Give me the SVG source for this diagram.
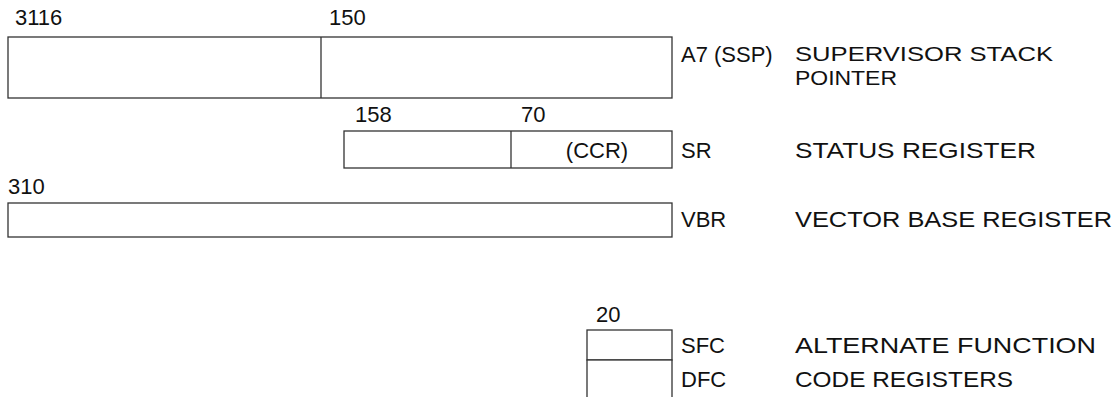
<svg xmlns="http://www.w3.org/2000/svg" width="1119" height="397" viewBox="0 0 1119 397">
<style>
text{font-family:"Liberation Sans",Arial,sans-serif;font-size:22px;fill:#111}
.s{font-size:21px}
.b{fill:#fff;stroke:#333;stroke-width:1.3}
.l{stroke:#333;stroke-width:1.3}
</style>
<rect width="1119" height="397" fill="#fff"/>
<g id="ssp">
<rect class="b" x="8" y="37" width="664" height="61"/>
<line class="l" x1="321" y1="37" x2="321" y2="98"/>
<text x="15" y="25">3116</text>
<text x="329" y="25">150</text>
<text x="681" y="62">A7 (SSP)</text>
<text class="s" x="795" y="61" textLength="258" lengthAdjust="spacingAndGlyphs">SUPERVISOR STACK</text>
<text class="s" x="795" y="85" textLength="102" lengthAdjust="spacingAndGlyphs">POINTER</text>
</g>
<g id="sr">
<rect class="b" x="344" y="131" width="328" height="37"/>
<line class="l" x1="511" y1="131" x2="511" y2="168"/>
<text x="355" y="122">158</text>
<text x="521" y="122">70</text>
<text x="597" y="158" text-anchor="middle">(CCR)</text>
<text x="681" y="158">SR</text>
<text x="795" y="158" textLength="241" lengthAdjust="spacingAndGlyphs">STATUS REGISTER</text>
</g>
<g id="vbr">
<rect class="b" x="8" y="203" width="664" height="34"/>
<text x="8" y="194">310</text>
<text x="681" y="227">VBR</text>
<text x="795" y="227" textLength="317" lengthAdjust="spacingAndGlyphs">VECTOR BASE REGISTER</text>
</g>
<g id="fc">
<rect class="b" x="587" y="330" width="85" height="30"/>
<rect class="b" x="587" y="360" width="85" height="40"/>
<text x="596" y="322">20</text>
<text x="681" y="353">SFC</text>
<text x="795" y="353" textLength="301" lengthAdjust="spacingAndGlyphs">ALTERNATE FUNCTION</text>
<text x="681" y="387">DFC</text>
<text x="795" y="387" textLength="218" lengthAdjust="spacingAndGlyphs">CODE REGISTERS</text>
</g>
<g id="connectors"/>
</svg>
